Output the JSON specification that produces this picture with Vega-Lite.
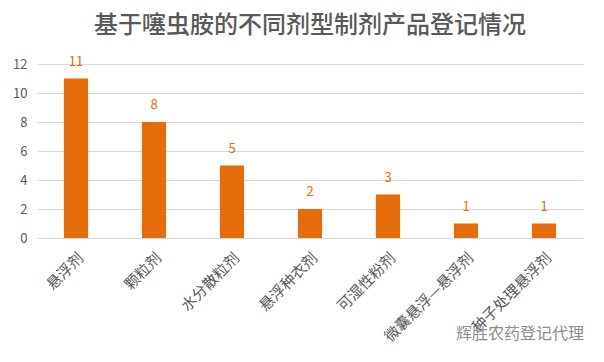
{
  "$schema": "https://vega.github.io/schema/vega-lite/v6.json",
  "autosize": {"type": "none"},
  "width": 546,
  "height": 174,
  "padding": {"left": 37, "top": 64, "right": 21, "bottom": 124},
  "background": "white",
  "title": {
    "text": "基于噻虫胺的不同剂型制剂产品登记情况",
    "font": "Noto Sans CJK SC",
    "fontSize": 24,
    "fontWeight": 500,
    "color": "#595959",
    "anchor": "middle",
    "offset": 18
  },
  "data": {
    "values": [
      {"剂型": "悬浮剂", "数量": 11},
      {"剂型": "颗粒剂", "数量": 8},
      {"剂型": "水分散粒剂", "数量": 5},
      {"剂型": "悬浮种衣剂", "数量": 2},
      {"剂型": "可湿性粉剂", "数量": 3},
      {"剂型": "微囊悬浮—悬浮剂", "数量": 1},
      {"剂型": "种子处理悬浮剂", "数量": 1}
    ]
  },
  "encoding": {
    "x": {
      "field": "剂型",
      "type": "nominal",
      "sort": null,
      "scale": {"paddingInner": 0.69, "paddingOuter": 0.345},
      "axis": {
        "title": null,
        "labelAngle": -45,
        "labelFont": "Noto Sans CJK SC",
        "labelFontSize": 15,
        "labelColor": "#595959",
        "domainColor": "#d9d9d9",
        "ticks": false,
        "labelPadding": 12
      }
    },
    "y": {
      "field": "数量",
      "type": "quantitative",
      "scale": {"domain": [0, 12]},
      "axis": {
        "title": null,
        "values": [0, 2, 4, 6, 8, 10, 12],
        "labelFont": "Noto Sans CJK SC",
        "labelFontSize": 13,
        "labelColor": "#595959",
        "gridColor": "#d9d9d9",
        "domain": false,
        "ticks": false,
        "labelPadding": 10
      }
    }
  },
  "layer": [
    {"mark": {"type": "bar", "color": "#E46C0A"}},
    {
      "mark": {"type": "text", "dy": -10, "color": "#E46C0A", "font": "Noto Sans CJK SC", "fontSize": 13, "baseline": "bottom"},
      "encoding": {"text": {"field": "数量", "type": "quantitative"}}
    },
    {
      "data": {"values": [{"标记": "辉胜农药登记代理", "剂型": "种子处理悬浮剂", "数量": 0}]},
      "mark": {"type": "text", "align": "right", "baseline": "middle", "color": "#8c8c8c", "font": "Noto Sans CJK SC", "fontSize": 16, "dx": 40, "dy": 96},
      "encoding": {
        "text": {"field": "标记", "type": "nominal"}
      }
    }
  ],
  "config": {"view": {"stroke": null}}
}
